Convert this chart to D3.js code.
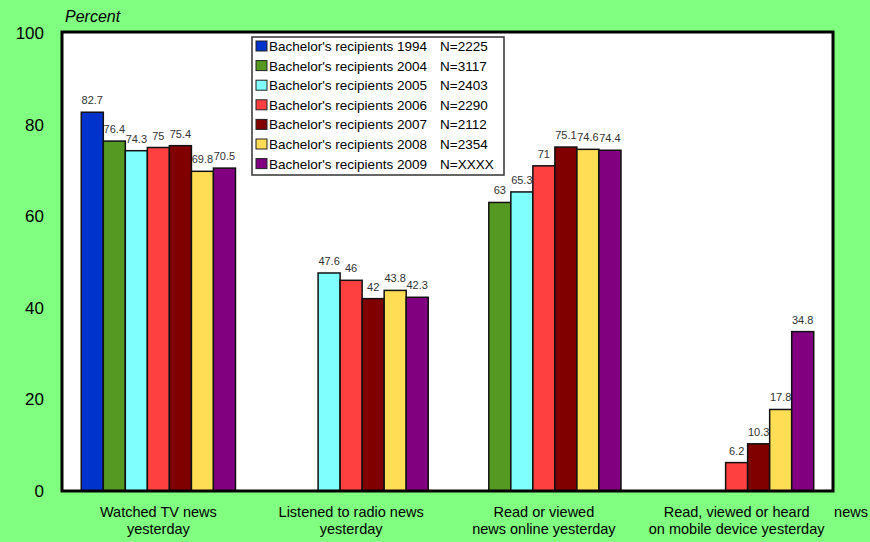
<!DOCTYPE html>
<html>
<head>
<meta charset="utf-8">
<script src="https://cdn.jsdelivr.net/npm/d3@7"></script>
<style>
html,body{margin:0;padding:0;background:#80FF80;}
svg{display:block;font-family:Arial,"Liberation Sans",sans-serif;}
</style>
</head>
<body>
<svg id="chart" width="870" height="542"></svg>
<script>
const categories = [
  ["Watched TV news", "yesterday"],
  ["Listened to radio news", "yesterday"],
  ["Read or viewed", "news online yesterday"],
  ["Read, viewed or heard", "on mobile device yesterday"]
];
const seriesNames = [
  "Bachelor's recipients 1994",
  "Bachelor's recipients 2004",
  "Bachelor's recipients 2005",
  "Bachelor's recipients 2006",
  "Bachelor's recipients 2007",
  "Bachelor's recipients 2008",
  "Bachelor's recipients 2009"
];
const seriesN = ["N=2225", "N=3117", "N=2403", "N=2290", "N=2112", "N=2354", "N=XXXX"];
const seriesColors = ["#0033CC", "#559922", "#80FFFF", "#FF4040", "#800000", "#FFDD55", "#800080"];
const values1994 = [82.7, null, null, null];
const values2004 = [76.4, null, 63, null];
const values2005 = [74.3, 47.6, 65.3, null];
const values2006 = [75, 46, 71, 6.2];
const values2007 = [75.4, 42, 75.1, 10.3];
const values2008 = [69.8, 43.8, 74.6, 17.8];
const values2009 = [70.5, 42.3, 74.4, 34.8];
const yTicks = [0, 20, 40, 60, 80, 100];

const allValues = [values1994, values2004, values2005, values2006, values2007, values2008, values2009];

const svg = d3.select("#chart");
const plot = {left: 62, right: 833, top: 32, bottom: 491};

const x0 = d3.scaleBand().domain(d3.range(categories.length))
  .range([plot.left, plot.right]).paddingInner(0.2).paddingOuter(0.1);
const x1 = d3.scaleBand().domain(d3.range(seriesNames.length))
  .range([0, x0.bandwidth()]).padding(0);
const y = d3.scaleLinear().domain([0, 100]).range([plot.bottom, plot.top + 1]);

// plot background
svg.append("rect").attr("x", plot.left).attr("y", plot.top)
  .attr("width", plot.right - plot.left).attr("height", plot.bottom - plot.top)
  .attr("fill", "#fff");

// bars
const flat = [];
allValues.forEach((arr, si) => arr.forEach((v, ci) => { if (v != null) flat.push({si, ci, v}); }));

svg.append("g").selectAll("rect").data(flat).join("rect")
  .attr("x", d => x0(d.ci) + x1(d.si))
  .attr("y", d => y(d.v))
  .attr("width", x1.bandwidth())
  .attr("height", d => y(0) - y(d.v))
  .attr("fill", d => seriesColors[d.si])
  .attr("stroke", "#111")
  .attr("stroke-width", 1.5);

svg.append("g").selectAll("text").data(flat).join("text")
  .attr("x", d => x0(d.ci) + x1(d.si) + x1.bandwidth() / 2)
  .attr("y", d => y(d.v) - 8)
  .attr("text-anchor", "middle")
  .attr("font-size", 11)
  .attr("fill", "#333")
  .text(d => d.v);

// border
svg.append("rect").attr("x", plot.left).attr("y", plot.top)
  .attr("width", plot.right - plot.left).attr("height", plot.bottom - plot.top)
  .attr("fill", "none").attr("stroke", "#000").attr("stroke-width", 3);

// y axis labels
const yAxis = d3.axisLeft(y).tickValues(yTicks).tickSize(0).tickPadding(18);
const yg = svg.append("g").attr("transform", `translate(${plot.left},0)`).call(yAxis);
yg.select(".domain").remove();
yg.selectAll("text").attr("font-size", 17).attr("fill", "#000")
  .attr("font-family", "Arial, 'Liberation Sans', sans-serif");

svg.append("text").attr("x", 65).attr("y", 22)
  .attr("font-size", 16).attr("font-style", "italic").text("Percent");

// x axis labels (one text per line)
const xg = svg.append("g");
categories.forEach((lines, i) => {
  lines.forEach((ln, k) => xg.append("text")
    .attr("x", x0(i) + x0.bandwidth() / 2)
    .attr("y", 517 + k * 16.5)
    .attr("text-anchor", "middle")
    .attr("font-size", 14.5)
    .text(ln));
});
xg.append("text").attr("x", 851).attr("y", 517).attr("text-anchor", "middle")
  .attr("font-size", 14.5).text("news");

// legend
const lg = svg.append("g");
lg.append("rect").attr("x", 252).attr("y", 37).attr("width", 252).attr("height", 138)
  .attr("fill", "#fff").attr("stroke", "#333").attr("stroke-width", 1.5);
seriesNames.forEach((name, i) => {
  const cy = 46 + i * 19.6;
  lg.append("rect").attr("x", 256).attr("y", cy - 5).attr("width", 11).attr("height", 10)
    .attr("fill", seriesColors[i]).attr("stroke", "#222").attr("stroke-width", 1);
  lg.append("text").attr("x", 269).attr("y", cy + 5).attr("font-size", 13.5).text(name);
  lg.append("text").attr("x", 440).attr("y", cy + 5).attr("font-size", 13.5).text(seriesN[i]);
});
</script>
</body>
</html>
